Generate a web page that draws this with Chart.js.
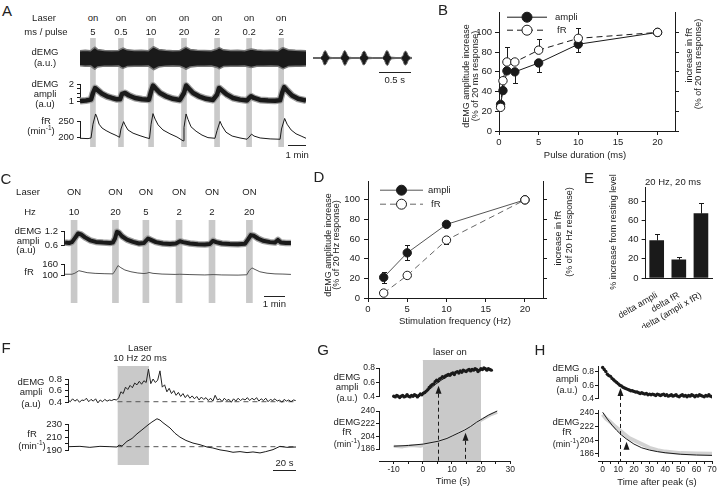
<!DOCTYPE html>
<html>
<head>
<meta charset="utf-8">
<title>dEMG / fR optogenetic stimulation figure</title>
<script src="https://cdn.jsdelivr.net/npm/chart.js@4.4.1/dist/chart.umd.min.js"></script>
<style>
  body { margin: 0; background: #fff; }
  #fig { position: relative; width: 720px; height: 488px; overflow: hidden; background: #fff;
         font-family: "Liberation Sans", Arial, sans-serif; color: #222; }
  #fig canvas { position: absolute; }
  .t { position: absolute; white-space: nowrap; line-height: 1; font-size: 9.5px; }
  .t sup { font-size: 6.5px; vertical-align: 4px; line-height: 0; }
  .sb { position: absolute; height: 1px; background: #222; }
</style>
</head>
<body>
<div id="fig"></div>
<script>
// ---------- A: laser trains (onset in min) and pulse widths ----------
const laserA = [0.74, 2.34, 4.06, 5.94, 7.83, 9.66, 11.49];
const pulseA = ['5', '0.5', '10', '20', '2', '0.2', '2'];
const tEndA = 12.91;

// raw dEMG band (upper / lower envelope)
const rawA_t  = [0, 0.3, 0.6, 0.74, 0.85, 1.0, 1.4, 1.8, 2.2, 2.34, 2.45, 2.7, 3.1, 3.5, 3.9, 4.06, 4.2, 4.5, 4.9, 5.3, 5.7, 5.94, 6.05, 6.3, 6.7, 7.1, 7.5, 7.83, 7.95, 8.2, 8.6, 9.0, 9.4, 9.66, 9.78, 10.1, 10.5, 10.9, 11.3, 11.49, 11.6, 11.9, 12.3, 12.6, 12.91];
const rawA_hi = [0.8, 0.85, 0.8, 1.05, 1.2, 0.95, 0.82, 0.8, 0.84, 1.0, 1.1, 0.9, 0.82, 0.85, 0.8, 1.05, 1.25, 0.95, 0.85, 0.8, 0.83, 1.1, 1.2, 0.95, 0.85, 0.82, 0.8, 1.0, 1.15, 0.9, 0.83, 0.85, 0.8, 0.95, 1.0, 0.88, 0.82, 0.85, 0.8, 1.05, 1.15, 0.92, 0.85, 0.82, 0.8];
const rawA_lo = [-0.85, -0.9, -0.88, -1.1, -1.25, -1.0, -0.9, -0.92, -0.88, -1.05, -1.15, -0.95, -0.9, -0.92, -0.88, -1.1, -1.3, -1.0, -0.9, -0.88, -0.92, -1.1, -1.25, -1.0, -0.92, -0.9, -0.88, -1.05, -1.2, -0.95, -0.9, -0.92, -0.88, -1.0, -1.05, -0.92, -0.9, -0.88, -0.9, -1.1, -1.2, -0.95, -0.9, -0.92, -0.88];

// expanded raw dEMG (s): breathing bursts
const burst_t  = [0, 0.12, 0.15, 0.17, 0.19, 0.21, 0.23, 0.26, 0.3, 0.43, 0.46, 0.48, 0.5, 0.52, 0.54, 0.57, 0.61, 0.73, 0.76, 0.78, 0.8, 0.82, 0.84, 0.87, 0.93, 1.09, 1.12, 1.14, 1.16, 1.18, 1.2, 1.23, 1.3, 1.38, 1.41, 1.43, 1.45, 1.47, 1.49, 1.52, 1.55];
const burst_hi = [0.5, 0.5, 2.5, 6, 7.5, 6, 3, 0.8, 0.5, 0.5, 3, 6.5, 7.5, 5.5, 2.5, 0.8, 0.5, 0.5, 2.5, 6, 7, 6, 2.5, 0.8, 0.5, 0.5, 3, 6.5, 7.5, 6, 2.5, 0.8, 0.5, 0.5, 2.5, 6, 7, 5.5, 2.5, 0.8, 0.5];
const burst_lo = [-0.5, -0.5, -2.5, -6.5, -7, -5.5, -2.5, -0.8, -0.5, -0.5, -2.5, -6, -7.5, -6, -3, -0.8, -0.5, -0.5, -3, -6.5, -7, -5.5, -2.5, -0.8, -0.5, -0.5, -2.5, -6, -7.5, -6.5, -3, -0.8, -0.5, -0.5, -3, -6.5, -7, -6, -2.5, -0.8, -0.5];

// dEMG amplitude (a.u.)
const ampA_t = [0, 0.34, 0.63, 0.74, 0.86, 1.03, 1.26, 1.54, 1.83, 2.11, 2.29, 2.4, 2.57, 2.8, 3.14, 3.54, 3.94, 4.06, 4.17, 4.34, 4.57, 4.91, 5.31, 5.71, 5.94, 6.06, 6.23, 6.46, 6.8, 7.2, 7.6, 7.83, 7.94, 8.11, 8.4, 8.74, 9.14, 9.54, 9.66, 9.77, 9.94, 10.29, 10.74, 11.14, 11.43, 11.54, 11.66, 11.83, 12.11, 12.46, 12.91];
const ampA_v = [1.02, 1.05, 1.1, 1.5, 1.8, 1.65, 1.45, 1.3, 1.2, 1.12, 1.12, 1.45, 1.5, 1.35, 1.2, 1.12, 1.1, 1.6, 1.95, 1.75, 1.5, 1.3, 1.15, 1.08, 1.5, 1.95, 1.75, 1.5, 1.3, 1.15, 1.08, 1.4, 1.8, 1.65, 1.4, 1.2, 1.1, 1.05, 1.2, 1.3, 1.2, 1.08, 1.05, 1.04, 1.06, 1.5, 1.85, 1.65, 1.35, 1.15, 1.05];

// respiratory frequency (min-1)
const frA_t = [0, 0.46, 0.63, 0.74, 0.89, 0.97, 1.09, 1.26, 1.49, 1.77, 2.06, 2.26, 2.34, 2.49, 2.57, 2.74, 3.03, 3.43, 3.77, 3.97, 4.06, 4.17, 4.29, 4.46, 4.74, 5.14, 5.54, 5.89, 5.94, 6.06, 6.17, 6.34, 6.63, 6.97, 7.31, 7.71, 7.83, 8.0, 8.11, 8.34, 8.69, 9.14, 9.54, 9.66, 9.8, 9.94, 10.29, 10.86, 11.43, 11.51, 11.69, 11.83, 12.06, 12.34, 12.63, 12.91];
const frA_v = [196, 195, 197, 240, 272, 262, 240, 228, 220, 212, 205, 199, 225, 248, 238, 222, 212, 204, 198, 195, 240, 273, 256, 238, 222, 210, 200, 188, 230, 272, 255, 232, 218, 206, 198, 196, 220, 249, 235, 215, 203, 197, 193, 200, 209, 203, 197, 194, 193, 225, 258, 240, 222, 210, 203, 196];

// ---------- B: pulse duration ----------
const pulseDur = [0.2, 0.5, 1, 2, 5, 10, 20];
const bAmpli   = [27, 41, 61, 60, 69, 88, 100];
const bAmpliLo = [null, null, null, 49, 60, 80, null];
const bFR      = [24, 51, 70, 70, 82, 94, 100];
const bFRHi    = [null, 55, 85, null, 93, 104, null];

// ---------- C: frequency trains ----------
const laserC = [0.48, 2.45, 3.9, 5.48, 7.05, 8.83];
const hzC = ['10', '20', '5', '2', '2', '20'];
const tEndC = 10.86;
const ampC_t = [0.05, 0.24, 0.38, 0.52, 0.67, 0.81, 1.0, 1.24, 1.52, 1.86, 2.19, 2.33, 2.43, 2.52, 2.62, 2.76, 3.0, 3.29, 3.57, 3.81, 3.9, 4.0, 4.14, 4.38, 4.71, 5.05, 5.33, 5.52, 5.67, 6.0, 6.38, 6.71, 6.95, 7.1, 7.24, 7.52, 7.9, 8.29, 8.62, 8.76, 8.9, 9.05, 9.24, 9.48, 9.81, 10.05, 10.19, 10.33, 10.57, 10.81];
const ampC_v = [0.72, 0.7, 0.74, 0.92, 1.12, 1.08, 0.95, 0.82, 0.75, 0.72, 0.7, 0.72, 0.9, 1.2, 1.15, 1.0, 0.85, 0.75, 0.68, 0.7, 0.8, 0.9, 0.84, 0.74, 0.68, 0.66, 0.68, 0.78, 0.74, 0.68, 0.65, 0.64, 0.66, 0.8, 0.74, 0.68, 0.66, 0.65, 0.67, 0.85, 1.05, 1.02, 0.9, 0.8, 0.74, 0.72, 0.84, 0.72, 0.7, 0.7];
const frC_t = [0.05, 0.38, 0.52, 0.71, 0.86, 1.1, 1.48, 1.95, 2.33, 2.43, 2.57, 2.71, 2.9, 3.19, 3.52, 3.81, 3.95, 4.05, 4.24, 4.67, 5.29, 5.52, 6.0, 6.71, 7.1, 7.52, 8.29, 8.71, 8.81, 8.95, 9.1, 9.33, 9.67, 10.05, 10.43, 10.81];
const frC_v = [106, 106, 112, 126, 122, 115, 111, 109, 108, 125, 155, 143, 130, 120, 113, 110, 112, 116, 111, 107, 105, 106, 104, 102, 104, 102, 101, 103, 125, 142, 133, 120, 112, 108, 107, 105];

// ---------- D: stimulation frequency ----------
const stimHz   = [2, 5, 10, 20];
const dAmpli   = [21, 46, 75, 100];
const dAmpliLo = [15, 39, 73, null];
const dAmpliHi = [27, 54, 77, null];
const dFR      = [5, 23, 59, 100];
const dFRLo    = [null, 20, 55, null];
const dFRHi    = [null, 27, 63, null];

// ---------- E ----------
const eCats = ['delta ampli', 'delta fR', 'delta (ampli x fR)'];
const eVals = [39, 19, 67];
const eHi   = [46, 22, 78];

// ---------- F: single 10 Hz train (s) ----------
const laserF = [43, 70.4];
const tEndF = 198.3;
const fAmp = [0.44, 0.41, 0.46, 0.42, 0.45, 0.40, 0.44, 0.43, 0.47, 0.41, 0.45, 0.42, 0.46, 0.39, 0.44, 0.41, 0.45, 0.42, 0.44, 0.43, 0.45, 0.44,
  0.47, 0.58, 0.55, 0.66, 0.62, 0.69, 0.65, 0.73, 0.70, 0.76, 0.71, 0.77, 0.74, 0.97, 0.72, 0.80, 0.74, 0.78, 0.94, 0.66, 0.70, 0.58, 0.64, 0.55, 0.60, 0.52, 0.57, 0.50,
  0.55, 0.48, 0.53, 0.47, 0.51, 0.46, 0.50, 0.44, 0.49, 0.45, 0.48, 0.43, 0.47, 0.42, 0.52, 0.44, 0.46, 0.41, 0.47, 0.43,
  0.45, 0.40, 0.46, 0.42, 0.47, 0.43, 0.46, 0.44, 0.48, 0.43, 0.47, 0.44, 0.48, 0.42, 0.46, 0.43, 0.47, 0.41, 0.45, 0.43,
  0.46, 0.42, 0.44, 0.40, 0.45, 0.42, 0.44, 0.41, 0.44, 0.43];
const fAmpStep = 2;              // s between samples
const fAmpBase = 0.41;
const frF_t = [0, 10.4, 19, 27.8, 36.5, 42.6, 44.3, 47, 51.3, 55.7, 60, 64.3, 69.6, 73, 77.4, 80, 82.6, 88.7, 93, 97.4, 102.6, 108.7, 114.8, 120.9, 126, 132.2, 138.3, 143.5, 149.6, 155.7, 160.9, 167, 172, 178.3, 184.3, 190.4, 198.3];
const frF_v = [195.5, 196, 194.5, 196, 195.5, 195, 198, 196.5, 203.6, 208, 215, 221, 228.6, 233, 238, 236, 232, 224, 216, 210, 205, 201, 198.5, 195, 193.5, 190.6, 189, 187, 188, 186.5, 187.5, 186, 188, 191, 196, 194.5, 195];
const fFRBase = 195.5;

// ---------- G: onset ----------
const laserG = [0, 20];
const gAmp = [0.41, 0.40, 0.42, 0.41, 0.39, 0.41, 0.42, 0.40, 0.41, 0.43, 0.41, 0.40, 0.42, 0.41, 0.43, 0.42, 0.40, 0.42, 0.44, 0.43, 0.45,
  0.46, 0.48, 0.50, 0.53, 0.55, 0.57, 0.58, 0.61, 0.63, 0.62, 0.65, 0.66, 0.68, 0.67, 0.69, 0.70, 0.71, 0.70, 0.72, 0.73, 0.71, 0.74, 0.75,
  0.73, 0.76, 0.74, 0.77, 0.76, 0.75, 0.77, 0.78, 0.76, 0.78, 0.77, 0.79, 0.78, 0.75, 0.77, 0.79, 0.78, 0.80, 0.79, 0.77, 0.79, 0.78, 0.77];
const gAmpStart = -10, gAmpStep = 0.5;
const gAmpFit_t = [-10, -5, -2, 0, 2, 4, 5, 6, 8, 10, 12, 15, 18, 22];
const gAmpFit_v = [0.405, 0.41, 0.42, 0.44, 0.5, 0.57, 0.6, 0.63, 0.68, 0.72, 0.745, 0.765, 0.775, 0.78];
const gFRFit_t = [-10, -5, 0, 5, 8, 10, 12, 14, 16, 18, 20, 22, 25];
const gFRFit_v = [190, 191, 193, 197, 201, 205, 209, 213, 218, 224, 229, 234, 240];
const gFRRaw_t = [-10, -7, -4, -1, 2, 5, 8, 11, 14, 17, 20, 23, 25];
const gFRRaw_v = [190, 189, 191, 190, 193, 198, 202, 208, 214, 221, 228, 235, 238];
const gArrowAmp = {t: 5, v: 0.555};
const gArrowFR  = {t: 14, v: 209};

// ---------- H: offset ----------
const hAmp = [0.86, 0.83, 0.80, 0.76, 0.74, 0.73, 0.70, 0.68, 0.66, 0.64, 0.62, 0.60, 0.59, 0.57, 0.56, 0.55, 0.54, 0.53, 0.52, 0.52,
  0.51, 0.50, 0.50, 0.49, 0.48, 0.49, 0.48, 0.47, 0.48, 0.46, 0.47, 0.46, 0.47, 0.46, 0.45, 0.47, 0.46, 0.45, 0.46, 0.47,
  0.45, 0.46, 0.44, 0.45, 0.46, 0.44, 0.45, 0.46, 0.44, 0.43, 0.45, 0.46, 0.44, 0.45, 0.43, 0.45, 0.44, 0.46, 0.45, 0.43,
  0.45, 0.44, 0.46, 0.45, 0.44, 0.43, 0.45, 0.44, 0.46, 0.44, 0.43];
const hAmpStep = 1;
const hFRFit_t = [0, 3, 6, 9, 12, 15, 20, 25, 30, 35, 40, 50, 60, 70];
const hFRFit_v = [241, 232, 224, 217, 211, 206, 199, 194, 191, 189, 187.5, 185.5, 184.5, 184];
const hFRRaw_t = [0, 2, 5, 8, 11, 14, 17, 20, 25, 30, 35, 40, 50, 60, 70];
const hFRRaw_v = [238, 233, 228, 222, 217, 212, 207, 204, 199, 194, 191, 189, 187, 186.5, 186];
const hArrowAmp = {t: 11, v: 0.56};
const hArrowFR  = {t: 15, v: 202};

// ================= drawing =================
Chart.defaults.font.family = '"Liberation Sans", Arial, sans-serif';
Chart.defaults.font.size = 9.5;
Chart.defaults.color = '#222';
Chart.defaults.animation = false;
Chart.defaults.events = [];
Chart.defaults.plugins.legend.display = false;
Chart.defaults.plugins.tooltip.enabled = false;
Chart.defaults.elements.point.radius = 0;

const fig = document.getElementById('fig');
const INK = '#1a1a1a', LASER = '#c9c9c9';

function T(text, x, y, o = {}) {
  const d = document.createElement('div');
  d.className = 't';
  d.innerHTML = text;
  d.style.left = x + 'px';
  d.style.top = y + 'px';
  if (o.size) d.style.fontSize = o.size + 'px';
  d.style.transform = (o.left ? 'translate(0,-50%)' : 'translate(-50%,-50%)') + (o.rot ? ' rotate(-90deg)' : '');
  fig.appendChild(d);
}

function lin(min, max, o = {}) {
  const show = o.show !== false;
  const ax = {
    type: 'linear', min, max, display: show, offset: false,
    border: {display: show, color: INK, width: 1},
    grid: {drawOnChartArea: false, tickLength: o.tick || 4, tickColor: INK, color: INK},
    ticks: {padding: o.pad ?? 3, autoSkip: false, maxRotation: 0, display: o.labels !== false,
            font: {size: o.fs || 9.5}, color: '#222', callback: o.fmt || (v => String(v))}
  };
  if (o.pos) ax.position = o.pos;
  if (o.at) ax.afterBuildTicks = s => { s.ticks = o.at.map(v => ({value: v})); };
  return ax;
}

// box = plot area in page px [l,t,r,b]; gap = room around it [l,t,r,b]
function mk(box, gap, config) {
  const [l, t, r, b] = box, [gl, gt, gr, gb] = gap;
  const cv = document.createElement('canvas');
  cv.width = r - l + gl + gr;
  cv.height = b - t + gt + gb;
  cv.style.left = (l - gl) + 'px';
  cv.style.top = (t - gt) + 'px';
  cv.pageLeft = l - gl;
  cv.pageTop = t - gt;
  fig.appendChild(cv);
  const room = {left: gl, top: gt, right: gr, bottom: gb}, pad = {...room};
  Object.entries(config.options.scales).forEach(([id, s]) => {
    if (s.display === false) return;
    const pos = s.position || (id.startsWith('x') ? 'bottom' : 'left');
    s.position = pos;
    pad[pos] = 0;
    s.afterFit = sc => { if (sc.isHorizontal()) sc.height = room[pos]; else sc.width = room[pos]; };
  });
  Object.assign(config.options, {responsive: false, devicePixelRatio: 1,
    layout: {autoPadding: false, padding: pad}});
  return new Chart(cv, config);
}

const xy = (xs, ys) => xs.map((x, i) => ({x, y: ys[i]}));
function trace(xs, ys, o = {}) {
  return {
    type: 'line', data: xy(xs, ys), borderColor: o.c || INK, borderWidth: o.w ?? 1,
    borderDash: o.dash || [], pointRadius: o.r || 0, pointBackgroundColor: o.pf || o.c || INK,
    pointBorderColor: o.pc || INK, pointBorderWidth: o.pbw ?? 1, showLine: !o.dots,
    fill: o.fill ?? false, backgroundColor: o.bg || 'transparent', tension: 0, clip: false,
    order: o.order ?? 0, borderJoinStyle: 'round', errLo: o.lo, errHi: o.hi
  };
}
function traceChart(datasets, x, y, plugins = [], more = {}) {
  return {type: 'line', data: {datasets}, options: {scales: {x, y, ...more}}, plugins};
}
function laserBars(times, width, tEnd) {
  return {type: 'bar',
    data: {datasets: [{data: times.map(t => ({x: t, y: [0, 1]})), backgroundColor: LASER, barThickness: width}]},
    options: {scales: {x: lin(0, tEnd, {show: false}), y: lin(0, 1, {show: false})}}};
}
const px = (ch, v) => ch.scales.x.getPixelForValue(v) + ch.canvas.pageLeft;
function scaleBar(ch, v0, v1, y, label, labelY) {
  const x0 = px(ch, v0), x1 = px(ch, v1);
  const d = document.createElement('div');
  d.className = 'sb';
  d.style.left = x0 + 'px'; d.style.top = y + 'px'; d.style.width = (x1 - x0) + 'px';
  fig.appendChild(d);
  T(label, (x0 + x1) / 2, labelY);
}

function drawErrors(ch, onTop) {
  const ctx = ch.ctx;
  ch.data.datasets.forEach((ds, i) => {
    if (!!ds.errTop !== onTop || !(ds.errLo || ds.errHi)) return;
    const meta = ch.getDatasetMeta(i), ys = ch.scales[meta.yAxisID];
    ctx.save();
    ctx.strokeStyle = INK; ctx.lineWidth = 1;
    meta.data.forEach((el, j) => {
      const x = Math.round(el.x) + 0.5;
      [ds.errLo && ds.errLo[j], ds.errHi && ds.errHi[j]].forEach(end => {
        if (end == null) return;
        const y = Math.round(ys.getPixelForValue(end)) + 0.5;
        ctx.beginPath();
        ctx.moveTo(x, el.y); ctx.lineTo(x, y);
        ctx.moveTo(x - 2.5, y); ctx.lineTo(x + 2.5, y);
        ctx.stroke();
      });
    });
    ctx.restore();
  });
}
const errorBars = {id: 'errorBars',
  beforeDatasetsDraw(ch) { drawErrors(ch, false); },
  afterDatasetsDraw(ch) { drawErrors(ch, true); }};

function lineLegend(items) {
  return {id: 'lineLegend', afterDraw(ch) {
    const ctx = ch.ctx, a = ch.chartArea;
    items.forEach(it => {
      const y = a.top + it.dy, x0 = a.left + it.dx;
      ctx.save();
      ctx.strokeStyle = it.color; ctx.lineWidth = 1; ctx.setLineDash(it.dash || []);
      ctx.beginPath(); ctx.moveTo(x0, y + 0.5); ctx.lineTo(x0 + it.len, y + 0.5); ctx.stroke();
      ctx.setLineDash([]);
      ctx.beginPath(); ctx.arc(x0 + it.len / 2, y + 0.5, it.r, 0, 2 * Math.PI);
      ctx.fillStyle = it.fill; ctx.fill(); ctx.strokeStyle = INK; ctx.stroke();
      ctx.fillStyle = '#222'; ctx.font = '9.5px "Liberation Sans", Arial, sans-serif';
      ctx.textBaseline = 'middle';
      ctx.fillText(it.label, x0 + it.len + it.gap, y + 0.5);
      ctx.restore();
    });
  }};
}

function arrows(list, axisPageY) {
  return {id: 'arrows', afterDraw(ch) {
    const ctx = ch.ctx, top = ch.canvas.pageTop;
    ctx.save();
    ctx.fillStyle = INK; ctx.strokeStyle = INK; ctx.lineWidth = 1;
    list.forEach(a => {
      const src = a.on || ch;
      const x = Math.round(ch.scales.x.getPixelForValue(a.t)) + 0.5;
      const yTip = src.scales.y.getPixelForValue(a.v) + src.canvas.pageTop - top;
      ctx.beginPath();
      ctx.moveTo(x, yTip); ctx.lineTo(x - 3, yTip + 8); ctx.lineTo(x + 3, yTip + 8);
      ctx.closePath(); ctx.fill();
      if (a.dash) {
        ctx.setLineDash([4, 3]);
        ctx.beginPath(); ctx.moveTo(x, yTip + 8); ctx.lineTo(x, axisPageY - top); ctx.stroke();
        ctx.setLineDash([]);
      }
    });
    ctx.restore();
  }};
}

// ----- panel A -----
mk([80, 38, 306, 147], [0, 0, 0, 0], laserBars(laserA, 5, tEndA));
mk([80, 44, 306, 72], [0, 0, 0, 0], traceChart([
  trace(rawA_t, rawA_hi, {c: '#777', w: 1.5}),
  trace(rawA_t, rawA_lo, {c: '#777', w: 1.5, fill: '-1', bg: INK})
], lin(0, tEndA, {show: false}), lin(-1.55, 1.55, {show: false})));
const insetA = mk([313, 46, 412, 70], [0, 0, 0, 0], traceChart([
  trace(burst_t, burst_hi, {c: '#666', w: 1}),
  trace(burst_t, burst_lo, {c: '#666', w: 1, fill: '-1', bg: INK})
], lin(0, 1.55, {show: false}), lin(-12, 12, {show: false})));
scaleBar(insetA, 1.03, 1.53, 72, '0.5 s', 80);
mk([80, 84, 306, 104], [26, 8, 0, 6], traceChart([
  trace(ampA_t, ampA_v, {c: '#a0a0a0', w: 7, order: 2}),
  trace(ampA_t, ampA_v, {c: INK, w: 4.5, order: 1})
], lin(0, tEndA, {show: false}),
   lin(1, 2, {at: [1, 1.25, 1.5, 1.75, 2], tick: 3, fmt: v => (v % 1 ? '' : String(v))})));
const frA = mk([80, 121, 306, 137], [30, 10, 0, 12], traceChart([
  trace(frA_t, frA_v, {w: 1})
], lin(0, tEndA, {show: false}), lin(200, 250, {at: [200, 250], tick: 3})));
laserA.forEach((t, i) => { const x = px(frA, t); T('on', x, 18); T(pulseA[i], x, 32); });
scaleBar(frA, tEndA - 1, tEndA, 145, '1 min', 155);

// ----- panel B -----
mk([499, 10, 675, 131], [40, 6, 14, 14], {type: 'line',
  data: {datasets: [
    trace(pulseDur, bFR, {dash: [6, 4], r: 4.2, pf: '#fff', order: 0, hi: bFRHi}),
    trace(pulseDur, bAmpli, {r: 4.2, order: 1, lo: bAmpliLo})
  ]},
  options: {scales: {
    x: lin(0, 22.2, {at: [0, 5, 10, 15, 20], pad: 2}),
    y: lin(0, 120, {at: [0, 20, 40, 60, 80, 100], pad: 3}),
    y2: lin(0, 120, {at: [0, 20, 40, 60, 80, 100], labels: false, pos: 'right'})
  }},
  plugins: [errorBars, lineLegend([
    {dx: 8, dy: 4, len: 40, r: 5, fill: INK, color: INK, label: 'ampli', gap: 8},
    {dx: 8, dy: 17, len: 40, r: 5, fill: '#fff', color: INK, dash: [6, 4], label: 'fR', gap: 10}
  ])]
});

// ----- panel C -----
mk([64, 220, 292, 303], [0, 0, 0, 0], laserBars(laserC, 6, tEndC));
mk([64, 231, 292, 248], [24, 8, 0, 6], traceChart([
  trace(ampC_t, ampC_v, {c: '#a0a0a0', w: 6.5, order: 2}),
  trace(ampC_t, ampC_v, {c: INK, w: 4, order: 1})
], lin(0, tEndC, {show: false}), lin(0.6, 1.2, {at: [0.6, 1.2], tick: 3})));
const frC = mk([64, 262, 292, 278], [24, 6, 0, 6], traceChart([
  trace(frC_t, frC_v, {c: '#555'})
], lin(0, tEndC, {show: false}), lin(100, 160, {at: [100, 160], tick: 3})));
laserC.forEach((t, i) => { const x = px(frC, t); T('ON', x, 192); T(hzC[i], x, 212); });
scaleBar(frC, 9.52, 10.52, 296, '1 min', 304);

// ----- panel D -----
mk([368, 178, 543, 298], [36, 6, 14, 14], {type: 'line',
  data: {datasets: [
    trace(stimHz, dFR, {c: '#666', dash: [6, 4], r: 4.2, pf: '#fff', order: 0, lo: dFRLo, hi: dFRHi}),
    trace(stimHz, dAmpli, {c: '#555', r: 4.2, pf: INK, order: 1, lo: dAmpliLo, hi: dAmpliHi})
  ]},
  options: {scales: {
    x: lin(0, 22.3, {at: [0, 5, 10, 15, 20], pad: 2}),
    y: lin(0, 118.5, {at: [0, 20, 40, 60, 80, 100], pad: 4}),
    y2: lin(0, 118.5, {at: [0, 20, 40, 60, 80, 100], labels: false, pos: 'right'})
  }},
  plugins: [errorBars, lineLegend([
    {dx: 12, dy: 8, len: 43, r: 5, fill: INK, color: '#555', label: 'ampli', gap: 5},
    {dx: 12, dy: 22, len: 43, r: 5, fill: '#fff', color: '#666', dash: [6, 4], label: 'fR', gap: 8}
  ])]
});

// ----- panel E -----
mk([635, 187, 712, 278], [24, 8, 8, 50], {type: 'bar',
  data: {labels: eCats, datasets: [{data: eVals, backgroundColor: INK, barThickness: 14, errHi: eHi, errTop: true}]},
  options: {scales: {
    x: {type: 'category', offset: true, border: {display: true, color: INK}, grid: {display: false},
        ticks: {minRotation: 30, maxRotation: 30, padding: 4, autoSkip: false, font: {size: 9}, color: '#222'}},
    y: lin(0, 94, {at: [0, 20, 40, 60, 80]})
  }},
  plugins: [errorBars]
});

// ----- panel F -----
const fAmp_t = fAmp.map((_, i) => i * fAmpStep);
mk([68, 366, 296, 465], [0, 0, 0, 0], traceChart([
  trace(laserF, [1, 1], {c: LASER, fill: 'origin', bg: LASER})
], lin(0, tEndF, {show: false}), lin(0, 1, {show: false})));
mk([68, 379, 296, 405], [22, 14, 0, 6], traceChart([
  trace([laserF[0], tEndF], [fAmpBase, fAmpBase], {c: '#555', dash: [5, 4], order: 2}),
  trace(fAmp_t, fAmp, {c: '#222', order: 1})
], lin(0, tEndF, {show: false}),
   lin(0.4, 0.8, {at: [0.4, 0.5, 0.6, 0.7, 0.8], tick: 3, fmt: v => ([0.4, 0.6, 0.8].includes(v) ? String(v) : '')})));
const frF = mk([68, 424, 296, 453], [22, 10, 0, 6], traceChart([
  trace([laserF[0], tEndF], [fFRBase, fFRBase], {c: '#555', dash: [5, 4], order: 2}),
  trace(frF_t, frF_v, {order: 1})
], lin(0, tEndF, {show: false}),
   lin(190, 230, {at: [190, 200, 210, 220, 230], tick: 3, fmt: v => (v % 20 === 10 ? String(v) : '')})));
scaleBar(frF, tEndF - 20, tEndF, 470, '20 s', 463);

// ----- panel G -----
const gAmp_t = gAmp.map((_, i) => gAmpStart + i * gAmpStep);
const bgG = mk([379, 360, 512, 461], [0, 0, 4, 16], traceChart([
  trace(laserG, [1, 1], {c: LASER, fill: 'origin', bg: LASER})
], lin(-15, 30, {at: [-10, -5, 0, 5, 10, 15, 20, 25, 30], tick: 3, pad: 1, fs: 8.5, fmt: v => (v % 10 ? '' : String(v))}),
   lin(0, 1, {show: false})));
const ampG = mk([379, 368, 512, 399], [22, 8, 0, 4], traceChart([
  trace(gAmpFit_t, gAmpFit_v, {order: 0}),
  trace(gAmp_t, gAmp, {dots: true, r: 1.7, pf: INK, pbw: 0, order: 1})
], lin(-15, 30, {show: false}), lin(0.4, 0.8, {at: [0.4, 0.6, 0.8], tick: 3, pad: 1, fs: 8.5})));
mk([379, 411, 512, 449], [22, 55, 0, 14], traceChart([
  trace(gFRFit_t, gFRFit_v, {order: 0}),
  trace(gFRRaw_t, gFRRaw_v, {c: '#cfcfcf', w: 3, order: 1})
], lin(-15, 30, {show: false}), lin(186, 240, {at: [186, 204, 222, 240], tick: 3, pad: 1, fs: 8.5}),
  [arrows([{...gArrowAmp, on: ampG, dash: true}, {...gArrowFR, dash: true}], bgG.scales.x.top + bgG.canvas.pageTop)]));

// ----- panel H -----
const hAmp_t = hAmp.map((_, i) => i * hAmpStep);
const bgH = mk([598, 360, 712, 461], [0, 0, 8, 16], traceChart([],
  lin(-3, 70, {at: [0, 5, 10, 15, 20, 25, 30, 35, 40, 45, 50, 55, 60, 65, 70], tick: 3, pad: 1, fs: 8.5, fmt: v => (v % 10 ? '' : String(v))}),
  lin(0, 1, {show: false})));
const ampH = mk([598, 365, 712, 401], [22, 5, 0, 4], traceChart([
  trace(hAmp_t, hAmp, {dots: true, r: 1.7, pf: INK, pbw: 0})
], lin(-3, 70, {show: false}), lin(0.4, 0.88, {at: [0.4, 0.6, 0.8], tick: 3, pad: 1, fs: 8.5})));
mk([598, 410, 712, 457], [22, 52, 0, 6], traceChart([
  trace(hFRFit_t, hFRFit_v, {order: 0}),
  trace(hFRRaw_t, hFRRaw_v, {c: '#d2d2d2', w: 4, order: 1})
], lin(-3, 70, {show: false}), lin(182, 244, {at: [186, 204, 222, 240], tick: 3, pad: 1, fs: 8.5}),
  [arrows([{...hArrowAmp, on: ampH, dash: true}, {...hArrowFR}], bgH.scales.x.top + bgH.canvas.pageTop)]));

// ----- text -----
T('A', 7, 10, {size: 15});
T('Laser', 44, 18); T('ms / pulse', 46, 32);
T('dEMG', 45, 52); T('(a.u.)', 45, 63);
T('dEMG', 45, 84); T('ampli', 45, 94); T('(a.u)', 45, 104);
T('fR', 46, 121); T('(min<sup>-1</sup>)', 41, 131);

T('B', 443, 9, {size: 15});
T('dEMG amplitude increase', 466, 76, {rot: true, size: 9});
T('(% of 20 ms response)', 475, 76, {rot: true, size: 9});
T('increase in fR', 689, 55, {rot: true, size: 9});
T('(% of 20 ms response)', 698, 64, {rot: true, size: 9});
T('Pulse duration (ms)', 585, 155);

T('C', 6, 178, {size: 15});
T('Laser', 28, 192); T('Hz', 30, 212);
T('dEMG', 28, 231); T('ampli', 28, 241); T('(a.u)', 26, 250);
T('fR', 29, 272);

T('D', 319, 176, {size: 15});
T('dEMG amplitude increase', 328, 245, {rot: true, size: 9});
T('(% of 20 Hz response)', 336, 245, {rot: true, size: 9});
T('increase in fR', 558, 238, {rot: true, size: 9});
T('(% of 20 Hz response)', 569, 232, {rot: true, size: 9});
T('Stimulation frequency (Hz)', 455, 321);

T('E', 589, 177, {size: 15});
T('20 Hz, 20 ms', 673, 182);
T('% increase from resting level', 613, 232, {rot: true, size: 9});

T('F', 6, 347, {size: 15});
T('Laser', 140, 348); T('10 Hz 20 ms', 140, 358);
T('dEMG', 31, 382); T('ampli', 31, 392); T('(a.u)', 31, 404);
T('fR', 32, 434); T('(min<sup>-1</sup>)', 32, 446);

T('G', 323, 349, {size: 15});
T('laser on', 450, 352);
T('dEMG', 347, 377); T('ampli', 347, 387); T('(a.u.)', 347, 398, {size: 9});
T('dEMG', 347, 422); T('fR', 347, 432); T('(min<sup>-1</sup>)', 347, 444, {size: 9});
T('Time (s)', 453, 481);

T('H', 540, 349, {size: 15});
T('dEMG', 566, 368); T('ampli', 567, 379); T('(a.u.)', 567, 390, {size: 9});
T('dEMG', 566, 422); T('fR', 567, 432); T('(min<sup>-1</sup>)', 566, 444, {size: 9});
T('Time after peak (s)', 657, 482);
</script>
</body>
</html>
